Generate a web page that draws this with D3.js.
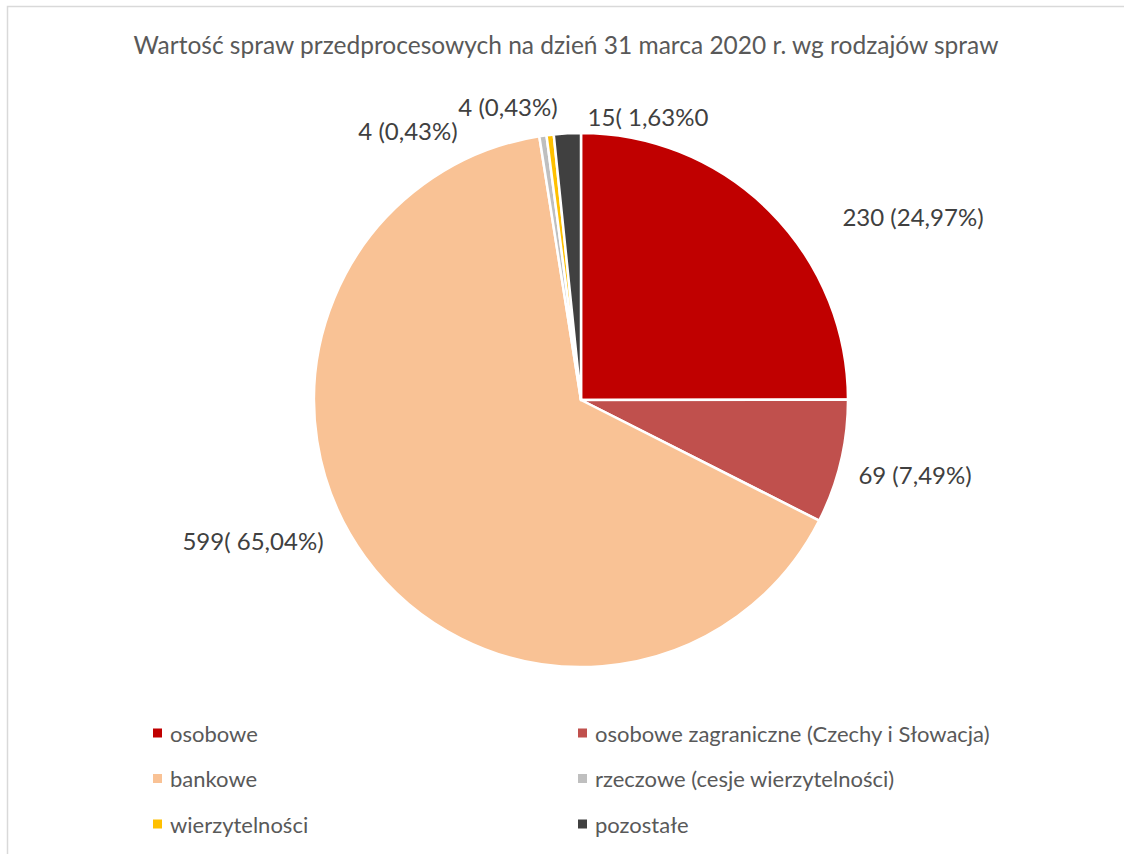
<!DOCTYPE html>
<html>
<head>
<meta charset="utf-8">
<script src="https://cdn.jsdelivr.net/npm/d3@7"></script>
<style>
  body { margin: 0; background: #fff; }
  svg { display: block; font-family: Lato, "Open Sans", sans-serif; }
</style>
</head>
<body>
<div id="chart"></div>
<script>
// Chart data
const categories = [
    'osobowe',
    'osobowe zagraniczne (Czechy i Słowacja)',
    'bankowe',
    'rzeczowe (cesje wierzytelności)',
    'wierzytelności',
    'pozostałe'
];
const values = [230, 69, 599, 4, 4, 15];
const valueLabels = ['230 (24,97%)', '69 (7,49%)', '599( 65,04%)', '4 (0,43%)', '4 (0,43%)', '15( 1,63%0'];
const colors = ['#c00000', '#c0504d', '#f9c295', '#bfbfbf', '#ffc000', '#404040'];

const title = 'Wartość spraw przedprocesowych na dzień 31 marca 2020 r. wg rodzajów spraw';

const width = 1124, height = 854;
const cx = 581, cy = 400, radius = 267;

// label offsets from pie centre (Excel best-fit placement)
const labelPos = [[332, -184], [334, 74], [-328, 140], [-173, -270], [-73, -294], [67, -284]];

const svg = d3.select('#chart').append('svg')
    .attr('width', width)
    .attr('height', height);

// chart border
svg.append('rect')
    .attr('x', 7.5)
    .attr('y', 6.5)
    .attr('width', width)
    .attr('height', height)
    .attr('fill', 'none')
    .attr('stroke', '#d9d9d9')
    .attr('stroke-width', 1.5);

svg.append('text')
    .attr('x', 566)
    .attr('y', 44)
    .attr('text-anchor', 'middle')
    .attr('dominant-baseline', 'central')
    .style('font-size', '24.5px')
    .style('fill', '#595959')
    .text(title);

const pie = d3.pie().sort(null).value(d => d);
const arc = d3.arc().innerRadius(0).outerRadius(radius);

const g = svg.append('g')
    .attr('transform', `translate(${cx},${cy})`);

g.selectAll('path')
    .data(pie(values))
  .enter().append('path')
    .attr('d', arc)
    .attr('fill', (d, i) => colors[i])
    .attr('stroke', '#fff')
    .attr('stroke-width', 2.5)
    .attr('stroke-linejoin', 'round');

g.selectAll('text.value')
    .data(valueLabels)
  .enter().append('text')
    .attr('class', 'value')
    .attr('x', (d, i) => labelPos[i][0])
    .attr('y', (d, i) => labelPos[i][1])
    .attr('text-anchor', 'middle')
    .attr('dominant-baseline', 'central')
    .style('font-size', '24px')
    .style('fill', '#404040')
    .text(d => d);

// Legend: two columns, three rows
const legend = svg.append('g');
const item = legend.selectAll('g')
    .data(categories)
  .enter().append('g')
    .attr('transform', (d, i) => `translate(${i % 2 === 0 ? 153 : 578},${733 + Math.floor(i / 2) * 45.5})`);

item.append('rect')
    .attr('x', 0)
    .attr('y', -4.5)
    .attr('width', 9)
    .attr('height', 9)
    .attr('fill', (d, i) => colors[i]);

item.append('text')
    .attr('x', 17)
    .attr('y', 0)
    .attr('dominant-baseline', 'central')
    .style('font-size', '22px')
    .style('fill', '#595959')
    .text(d => d);
</script>
</body>
</html>
